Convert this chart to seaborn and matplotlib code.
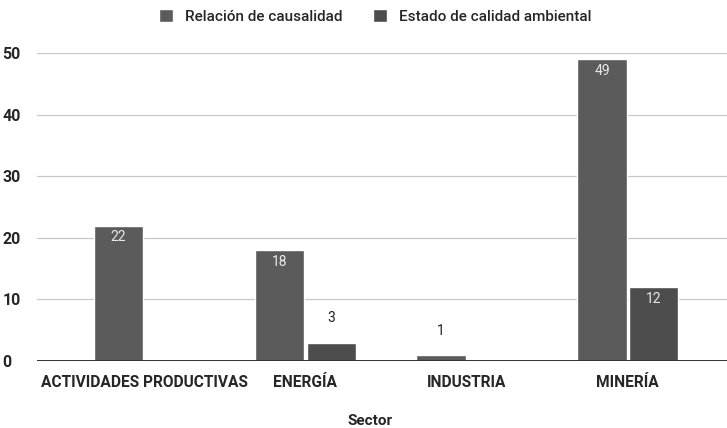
import seaborn as sns
import matplotlib.pyplot as plt
import pandas as pd

sectores = ["ACTIVIDADES PRODUCTIVAS", "ENERGÍA", "INDUSTRIA", "MINERÍA"]
series = ["Relación de causalidad", "Estado de calidad ambiental"]
relacion = [22, 18, 1, 49]
estado = [0, 3, 0, 12]
colores = ["#5b5b5b", "#4d4d4d"]

df = pd.DataFrame({
    "Sector": sectores * 2,
    "Serie": [series[0]] * 4 + [series[1]] * 4,
    "Valor": relacion + estado,
})

sns.set_style("white")
plt.rcParams["font.family"] = ["Roboto", "DejaVu Sans"]

fig = plt.figure(figsize=(7.27, 4.28), dpi=100)
ax = fig.add_axes([0.051, 0.1565, 0.949, 0.7195])

sns.barplot(data=df, x="Sector", y="Valor", hue="Serie", palette=colores,
            width=0.64, gap=0.04, saturation=1, ax=ax, legend=True)

ax.set_ylim(0, 50)
ax.set_xlim(-0.665, 3.615)
ax.set_yticks([0, 10, 20, 30, 40, 50])
ax.yaxis.grid(True, color="#c8c8c8", linewidth=0.9)
ax.set_axisbelow(True)
ax.axhline(0, color="#333333", linewidth=1.4, zorder=5)
for s in ax.spines.values():
    s.set_visible(False)
ax.tick_params(axis="both", length=0)
ax.tick_params(axis="y", pad=8, labelsize=11.5)
ax.tick_params(axis="x", pad=10, labelsize=11.2)
for t in ax.get_xticklabels():
    t.set_fontweight("bold")
for t in ax.get_yticklabels():
    t.set_fontweight("bold")
    t.set_horizontalalignment("left")
    t.set_x(-0.034)

ax.set_ylabel("")
ax.set_xlabel("Sector", fontsize=11, fontweight="bold")
ax.xaxis.set_label_coords(0.483, -0.172)

# value labels
for cont in ax.containers:
    for bar in cont:
        h = bar.get_height()
        if h <= 0:
            continue
        cx = bar.get_x() + bar.get_width() / 2
        if h >= 8:
            ax.text(cx, h - 0.8, f"{int(h)}", ha="center", va="top",
                    color="#e8e8e8", fontsize=10)
        else:
            ax.text(cx, h + 2.8, f"{int(h)}", ha="center", va="bottom",
                    color="#222222", fontsize=10)

leg = ax.legend(loc="lower center", bbox_to_anchor=(0.49, 1.075), ncol=2, frameon=False,
                fontsize=11, handlelength=0.9, handleheight=0.9, handletextpad=0.8,
                columnspacing=2.0, borderaxespad=0)
for t in leg.get_texts():
    t.set_fontweight("medium")

fig.savefig("out.png", dpi=100, facecolor="white")
